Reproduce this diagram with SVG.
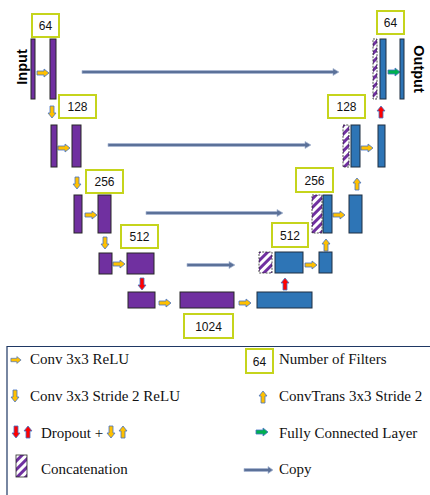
<svg xmlns="http://www.w3.org/2000/svg" width="430" height="495" viewBox="0 0 430 495">
<style>
.enc{fill:#7030A0;stroke:#262626;stroke-width:1}
.dec{fill:#2E75B6;stroke:#1F2F40;stroke-width:1}
.cat{fill:url(#hatch);stroke:#262626;stroke-width:0.8;stroke-dasharray:2 1.2}
.nbox{fill:#fff;stroke:#C5D41C;stroke-width:2}
.num{font-family:"Liberation Sans",Arial,sans-serif;font-size:12px;fill:#111;text-anchor:middle}
.io{font-family:"Liberation Sans",Arial,sans-serif;font-size:14.5px;font-weight:bold;fill:#000;text-anchor:middle}
.leg{font-family:"Liberation Serif","Times New Roman",serif;font-size:15px;fill:#111}
.copy{fill:#5B7199;stroke:#A9B8D3;stroke-width:0.7}
</style>
<defs>
<pattern id="hatch" patternUnits="userSpaceOnUse" width="6" height="6" patternTransform="rotate(45)">
<rect width="6" height="6" fill="#fff"/>
<rect width="3" height="6" fill="#7030A0"/>
</pattern>
<path id="ar" d="M-6,-2 H1 V-4 L6,0 L1,4 V2 H-6 Z" stroke="#4472C4" stroke-width="0.8"/>
<g id="ay"><use href="#ar" fill="#FFC000"/></g>
<g id="ady"><use href="#ar" fill="#FFC000" transform="rotate(90)"/></g>
<g id="auy"><use href="#ar" fill="#FFC000" transform="rotate(-90)"/></g>
<g id="adr"><use href="#ar" fill="#FF0000" transform="rotate(90)"/></g>
<g id="aur"><use href="#ar" fill="#FF0000" transform="rotate(-90)"/></g>
<g id="ag"><use href="#ar" fill="#00B050"/></g>
</defs>
<rect width="430" height="495" fill="#fff"/>

<g id="connectors">
<path class="copy" d="M82,70.5 H333 V68.5 L339,72 L333,75.5 V73.5 H82 Z"/>
<path class="copy" d="M108,143.5 H305 V141.5 L311,145 L305,148.5 V146.5 H108 Z"/>
<path class="copy" d="M146,211.5 H277 V209.5 L283,213 L277,216.5 V214.5 H146 Z"/>
<path class="copy" d="M187,263.5 H229 V261.5 L235,265 L229,268.5 V266.5 H187 Z"/>
<use href="#ay" x="43" y="73"/>
<use href="#ady" x="52" y="112"/>
<use href="#ay" x="64" y="148"/>
<use href="#ady" x="77" y="183"/>
<use href="#ay" x="91" y="215"/>
<use href="#ady" x="105" y="243"/>
<use href="#ay" x="119" y="264"/>
<use href="#adr" x="142" y="284"/>
<use href="#ay" x="165" y="303"/>
<use href="#ay" x="245" y="303"/>
<use href="#aur" x="285" y="284"/>
<use href="#ay" x="311" y="265"/>
<use href="#auy" x="326" y="245"/>
<use href="#ay" x="339" y="215"/>
<use href="#auy" x="357" y="184"/>
<use href="#ay" x="367" y="148"/>
<use href="#aur" x="381" y="112"/>
<use href="#ag" x="394" y="72"/>
</g>

<g id="enc1">
<rect class="enc" x="31" y="39" width="4" height="60"/>
<rect class="enc" x="50" y="39" width="6" height="60"/>
<rect class="nbox" x="32" y="14" width="27" height="23"/><text class="num" x="45.5" y="30">64</text>
<text class="io" transform="translate(27,67) rotate(-90)">Input</text>
</g>
<g id="enc2">
<rect class="enc" x="51" y="125" width="6" height="42"/>
<rect class="enc" x="72" y="125" width="9" height="42"/>
<rect class="nbox" x="59" y="95" width="37" height="23"/><text class="num" x="77.5" y="111">128</text>
</g>
<g id="enc3">
<rect class="enc" x="74" y="195" width="8" height="38"/>
<rect class="enc" x="98" y="195" width="13" height="38"/>
<rect class="nbox" x="86" y="170" width="37" height="23"/><text class="num" x="104.5" y="186">256</text>
</g>
<g id="enc4">
<rect class="enc" x="99" y="253" width="13" height="21"/>
<rect class="enc" x="127" y="253" width="27" height="21"/>
<rect class="nbox" x="121" y="225" width="37" height="23"/><text class="num" x="139.5" y="241">512</text>
</g>
<g id="bottleneck">
<rect class="enc" x="128" y="292" width="27" height="16"/>
<rect class="enc" x="180" y="292" width="54" height="16"/>
<rect class="nbox" x="184" y="314" width="49" height="24"/><text class="num" x="208.5" y="330.5">1024</text>
<rect class="dec" x="257" y="292" width="55" height="16"/>
</g>
<g id="dec4">
<rect class="cat" x="259" y="252" width="13" height="21"/>
<rect class="dec" x="275" y="252" width="28" height="21"/>
<rect class="dec" x="319" y="252" width="13" height="21"/>
<rect class="nbox" x="272" y="223" width="36" height="24"/><text class="num" x="290" y="239.5">512</text>
</g>
<g id="dec3">
<rect class="cat" x="312" y="195" width="10" height="38"/>
<rect class="dec" x="323" y="195" width="9" height="38"/>
<rect class="dec" x="349" y="195" width="13" height="38"/>
<rect class="nbox" x="296" y="168" width="37" height="24"/><text class="num" x="314.5" y="184.5">256</text>
</g>
<g id="dec2">
<rect class="cat" x="343" y="125" width="6" height="42"/>
<rect class="dec" x="351" y="125" width="9" height="42"/>
<rect class="dec" x="378" y="125" width="7" height="42"/>
<rect class="nbox" x="328" y="95" width="37" height="23"/><text class="num" x="346.5" y="111">128</text>
</g>
<g id="dec1">
<rect class="cat" x="373" y="39" width="4" height="60"/>
<rect class="dec" x="380" y="39" width="6" height="60"/>
<rect class="dec" x="400" y="39" width="4" height="60"/>
<rect class="nbox" x="377" y="11" width="27" height="23"/><text class="num" x="390.5" y="27">64</text>
<text class="io" transform="translate(414,69) rotate(90)">Output</text>
</g>

<g id="legend">
<path d="M7,495 V346.5 H430" fill="none" stroke="#1F3864" stroke-width="1.2"/>
<use href="#ay" x="16" y="360" transform="translate(16,360) scale(0.85) translate(-16,-360)"/>
<text class="leg" x="30" y="364">Conv 3x3 ReLU</text>
<use href="#ady" x="15" y="396"/>
<text class="leg" x="30" y="401">Conv 3x3 Stride 2 ReLU</text>
<use href="#adr" x="16" y="432"/>
<use href="#aur" x="28" y="432"/>
<text class="leg" x="41" y="438">Dropout + </text>
<use href="#ady" x="111" y="432"/>
<use href="#auy" x="123" y="432"/>
<rect class="cat" x="16" y="455" width="11" height="22" style="stroke-dasharray:none"/>
<text class="leg" x="41" y="474">Concatenation</text>
<rect class="nbox" x="246" y="349" width="27" height="24"/><text class="num" x="259.5" y="365.5">64</text>
<text class="leg" x="279" y="364">Number of Filters</text>
<use href="#auy" x="263" y="397"/>
<text class="leg" x="279" y="401">ConvTrans 3x3 Stride 2</text>
<use href="#ag" x="262" y="432"/>
<text class="leg" x="279" y="438">Fully Connected Layer</text>
<path class="copy" d="M244,468.5 H268 V466.5 L273,470 L268,473.5 V471.5 H244 Z"/>
<text class="leg" x="279" y="474">Copy</text>
</g>
</svg>
